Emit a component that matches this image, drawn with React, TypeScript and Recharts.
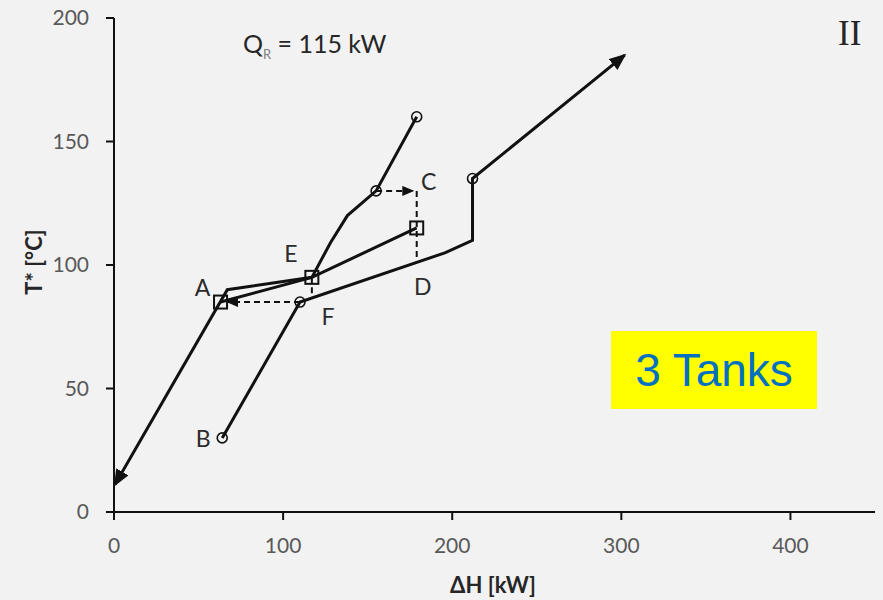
import React from "react";
import { ComposedChart, Line, XAxis, YAxis, ReferenceDot } from "recharts";

// Hot stream path (top circle down to the arrow near the origin)
const hotX = [179, 155, 138, 128, 117, 67, 0.5];
const hotY = [160, 130, 120, 109, 95, 90, 11];
const hotMarks = ["circle", "circle", "", "", "", "", ""];

// Cold stream path (B upward to the arrow at the top right)
const coldX = [64, 110, 196, 212, 212, 302];
const coldY = [30, 85, 105, 110, 135, 185];
const coldMarks = ["circle", "circle", "", "", "circle", ""];

// Tank levels
const tankX = [179, 117, 63];
const tankY = [115, 95, 85];
const tankMarks = ["square", "square", "square"];

// Dashed transfer lines
const transferCX = [155, 177];
const transferCY = [130, 130];
const dropDX = [179, 179];
const dropDY = [130, 101];
const dropEX = [117, 117];
const dropEY = [95, 87];
const transferAX = [110, 67];
const transferAY = [85, 85];

const xTicks = [0, 100, 200, 300, 400];
const yTicks = [0, 50, 100, 150, 200];

// Point letters with their anchor values and text offsets
const letters = ["A", "B", "C", "D", "E", "F"];
const letterX = [63, 64, 179, 179, 117, 110];
const letterY = [85, 30, 130, 101, 95, 85];
const letterDx = [-18, -19, 12, 6, -21, 28];
const letterDy = [-15, 0, -10, 23, -24, 14];

const toRows = (xs: number[], ys: number[], marks?: string[]) =>
  xs.map((x, i) => ({ x, y: ys[i], m: marks ? marks[i] : "" }));

const hotData = toRows(hotX, hotY, hotMarks);
const coldData = toRows(coldX, coldY, coldMarks);
const tankData = toRows(tankX, tankY, tankMarks);
const transferC = toRows(transferCX, transferCY);
const dropD = toRows(dropDX, dropDY);
const dropE = toRows(dropEX, dropEY);
const transferA = toRows(transferAX, transferAY);

const INK = "#111";
const FONT = "Lato, 'Open Sans', sans-serif";

const renderMark = (props: any) => {
  const { cx, cy, payload, index } = props;
  const m = payload && payload.m;
  if (m === "circle") {
    return (
      <circle key={`c${index}`} cx={cx} cy={cy} r={5} fill="none" stroke={INK} strokeWidth={1.6} />
    );
  }
  if (m === "square") {
    return (
      <rect
        key={`s${index}`}
        x={cx - 6.5}
        y={cy - 6.5}
        width={13}
        height={13}
        fill="none"
        stroke={INK}
        strokeWidth={2}
      />
    );
  }
  return <g key={`n${index}`} />;
};

const letterShape = (i: number) => (props: any) => (
  <text
    x={props.cx + letterDx[i]}
    y={props.cy + letterDy[i]}
    textAnchor="middle"
    dominantBaseline="central"
    fontFamily={FONT}
    fontSize={23}
    fill="#2b2b2b"
  >
    {letters[i]}
  </text>
);

export default function App() {
  return (
    <div
      style={{
        position: "absolute",
        left: 0,
        top: 0,
        width: 883,
        height: 600,
        background: "#F2F2F2",
        overflow: "hidden",
      }}
    >
      <svg width={0} height={0} style={{ position: "absolute" }}>
        <defs>
          <marker
            id="arrowBig"
            markerUnits="userSpaceOnUse"
            markerWidth={18}
            markerHeight={14}
            refX={15}
            refY={7}
            orient="auto"
          >
            <path d="M0,0 L17,7 L0,14 Z" fill={INK} />
          </marker>
          <marker
            id="arrowSmall"
            markerUnits="userSpaceOnUse"
            markerWidth={12}
            markerHeight={10}
            refX={11}
            refY={5}
            orient="auto"
          >
            <path d="M0,0 L12,5 L0,10 Z" fill={INK} />
          </marker>
        </defs>
      </svg>
      <ComposedChart width={883} height={600} margin={{ top: 18, right: 8, bottom: 0, left: 0 }}>
        <XAxis
          type="number"
          dataKey="x"
          domain={[0, 450]}
          ticks={xTicks}
          allowDataOverflow
          height={88}
          axisLine={{ stroke: INK, strokeWidth: 2 }}
          tickLine={{ stroke: INK, strokeWidth: 2 }}
          tickSize={8}
          tickMargin={18}
          tick={{ fill: "#595959", fontSize: 21, fontFamily: FONT }}
        />
        <YAxis
          type="number"
          dataKey="y"
          domain={[0, 200]}
          ticks={yTicks}
          allowDataOverflow
          width={114}
          axisLine={{ stroke: INK, strokeWidth: 2 }}
          tickLine={{ stroke: INK, strokeWidth: 2 }}
          tickSize={8}
          tickMargin={17}
          tick={{ fill: "#595959", fontSize: 21, fontFamily: FONT }}
        />
        <Line
          data={hotData}
          dataKey="y"
          type="linear"
          stroke={INK}
          strokeWidth={3}
          dot={renderMark}
          activeDot={false}
          markerEnd="url(#arrowBig)"
          isAnimationActive={false}
        />
        <Line
          data={coldData}
          dataKey="y"
          type="linear"
          stroke={INK}
          strokeWidth={3}
          dot={renderMark}
          activeDot={false}
          markerEnd="url(#arrowBig)"
          isAnimationActive={false}
        />
        <Line
          data={tankData}
          dataKey="y"
          type="linear"
          stroke={INK}
          strokeWidth={3}
          dot={renderMark}
          activeDot={false}
          isAnimationActive={false}
        />
        <Line
          data={transferC}
          dataKey="y"
          type="linear"
          stroke={INK}
          strokeWidth={2}
          strokeDasharray="6 4"
          dot={false}
          activeDot={false}
          markerEnd="url(#arrowSmall)"
          isAnimationActive={false}
        />
        <Line
          data={dropD}
          dataKey="y"
          type="linear"
          stroke={INK}
          strokeWidth={2}
          strokeDasharray="6 4"
          dot={false}
          activeDot={false}
          isAnimationActive={false}
        />
        <Line
          data={dropE}
          dataKey="y"
          type="linear"
          stroke={INK}
          strokeWidth={2}
          strokeDasharray="6 4"
          dot={false}
          activeDot={false}
          isAnimationActive={false}
        />
        <Line
          data={transferA}
          dataKey="y"
          type="linear"
          stroke={INK}
          strokeWidth={2}
          strokeDasharray="6 4"
          dot={false}
          activeDot={false}
          markerEnd="url(#arrowSmall)"
          isAnimationActive={false}
        />
        {letters.map((l, i) => (
          <ReferenceDot
            key={l}
            x={letterX[i]}
            y={letterY[i]}
            r={0}
            shape={letterShape(i)}
          />
        ))}
      </ComposedChart>

      {/* Annotations */}
      <div
        style={{
          position: "absolute",
          left: 243,
          top: 28,
          fontFamily: FONT,
          fontSize: 25,
          color: "#262626",
          whiteSpace: "nowrap",
          lineHeight: "30px",
        }}
      >
        Q<sub style={{ fontSize: 13, color: "#7f7f7f", verticalAlign: "-6px" }}>R</sub> = 115 kW
      </div>
      <div
        style={{
          position: "absolute",
          left: 838,
          top: 14,
          fontFamily: "'Liberation Serif', 'DejaVu Serif', serif",
          fontSize: 35,
          color: "#262626",
          lineHeight: "40px",
        }}
      >
        II
      </div>
      <div
        style={{
          position: "absolute",
          left: 611,
          top: 331,
          width: 206,
          height: 78,
          background: "#FFFF00",
          display: "flex",
          alignItems: "center",
          justifyContent: "center",
          fontFamily: "'Liberation Sans', Arial, sans-serif",
          fontSize: 46,
          color: "#0070C0",
        }}
      >
        3 Tanks
      </div>
      <div
        style={{
          position: "absolute",
          left: 493,
          top: 584,
          transform: "translate(-50%, -50%)",
          fontFamily: FONT,
          fontWeight: 700,
          fontSize: 22,
          color: "#262626",
          whiteSpace: "nowrap",
        }}
      >
        ΔH [kW]
      </div>
      <div
        style={{
          position: "absolute",
          left: 33,
          top: 262,
          transform: "translate(-50%, -50%) rotate(-90deg)",
          fontFamily: FONT,
          fontWeight: 700,
          fontSize: 22,
          color: "#262626",
          whiteSpace: "nowrap",
        }}
      >
        T* [°C]
      </div>
    </div>
  );
}
